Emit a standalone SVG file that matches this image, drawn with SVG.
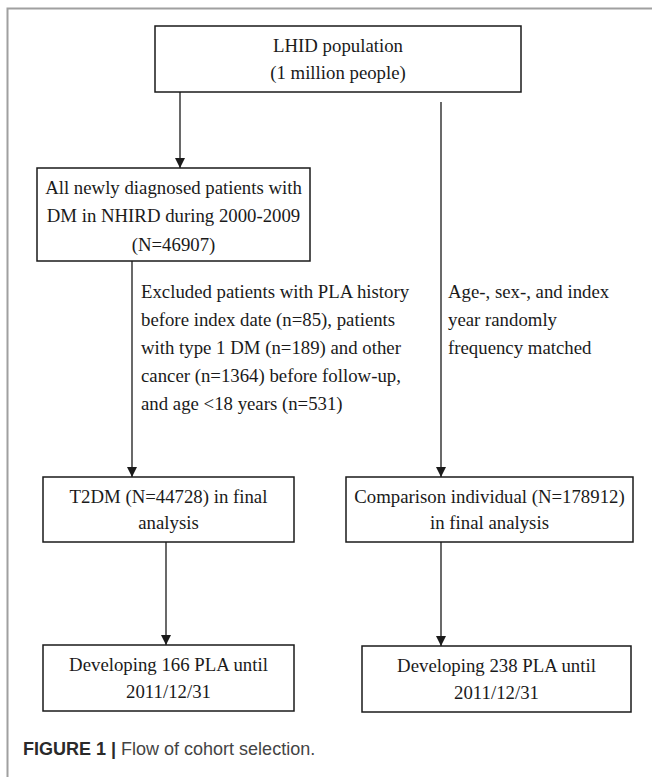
<svg xmlns="http://www.w3.org/2000/svg" width="652" height="777" viewBox="0 0 652 777">
<style>
.box{fill:#fff;stroke:#1a1a1a;stroke-width:1.5}
.t{font-family:"Liberation Serif","Times New Roman",serif;font-size:18.8px;fill:#1a1a1a}
.c{text-anchor:middle}
.ln{stroke:#1a1a1a;stroke-width:1.3;fill:none}
.cap{font-family:"Liberation Sans",Arial,sans-serif;font-size:18px}
</style>
<defs>
<marker id="ah" viewBox="0 0 10 10" refX="10" refY="5" markerWidth="10" markerHeight="10" markerUnits="userSpaceOnUse" orient="auto">
<path d="M0,0 L10,5 L0,10 z" fill="#1a1a1a"/>
</marker>
</defs>
<rect width="652" height="777" fill="#fff"/>
<path d="M7.5,777 V8.5 H652" fill="none" stroke="#a0a0a0" stroke-width="2"/>
<g id="connectors">
<line class="ln" x1="180" y1="92" x2="180" y2="168" marker-end="url(#ah)"/>
<line class="ln" x1="132" y1="261" x2="132" y2="477" marker-end="url(#ah)"/>
<line class="ln" x1="441" y1="102" x2="441" y2="477" marker-end="url(#ah)"/>
<line class="ln" x1="166" y1="542" x2="166" y2="645" marker-end="url(#ah)"/>
<line class="ln" x1="441" y1="542" x2="441" y2="646" marker-end="url(#ah)"/>
</g>
<g id="n1">
<rect class="box" x="155" y="26" width="366" height="66"/>
<text class="t c" x="338" y="52">LHID population</text>
<text class="t c" x="338" y="79">(1 million people)</text>
</g>
<g id="n2">
<rect class="box" x="37" y="168" width="273" height="93"/>
<text class="t c" x="173.5" y="194">All newly diagnosed patients with</text>
<text class="t c" x="173.5" y="222">DM in NHIRD during 2000-2009</text>
<text class="t c" x="173.5" y="251">(N=46907)</text>
</g>
<g id="excl">
<text class="t" x="141" y="298">Excluded patients with PLA history</text>
<text class="t" x="141" y="326">before index date (n=85), patients</text>
<text class="t" x="141" y="354">with type 1 DM (n=189) and other</text>
<text class="t" x="141" y="382">cancer (n=1364) before follow-up,</text>
<text class="t" x="141" y="410">and age &lt;18 years (n=531)</text>
</g>
<g id="match">
<text class="t" x="448" y="298">Age-, sex-, and index</text>
<text class="t" x="448" y="326">year randomly</text>
<text class="t" x="448" y="354">frequency matched</text>
</g>
<g id="n3">
<rect class="box" x="43" y="477" width="251" height="65"/>
<text class="t c" x="168.5" y="503">T2DM (N=44728) in final</text>
<text class="t c" x="168.5" y="529">analysis</text>
</g>
<g id="n4">
<rect class="box" x="346" y="477" width="287" height="65"/>
<text class="t c" x="489.5" y="503">Comparison individual (N=178912)</text>
<text class="t c" x="489.5" y="529">in final analysis</text>
</g>
<g id="n5">
<rect class="box" x="43" y="645" width="251" height="66"/>
<text class="t c" x="168.5" y="671">Developing 166 PLA until</text>
<text class="t c" x="168.5" y="698">2011/12/31</text>
</g>
<g id="n6">
<rect class="box" x="362" y="646" width="269" height="66"/>
<text class="t c" x="496.5" y="672">Developing 238 PLA until</text>
<text class="t c" x="496.5" y="699">2011/12/31</text>
</g>
<text class="cap" x="23" y="755"><tspan font-weight="bold" fill="#2a2a2a">FIGURE 1 | </tspan><tspan fill="#444">Flow of cohort selection.</tspan></text>
</svg>
